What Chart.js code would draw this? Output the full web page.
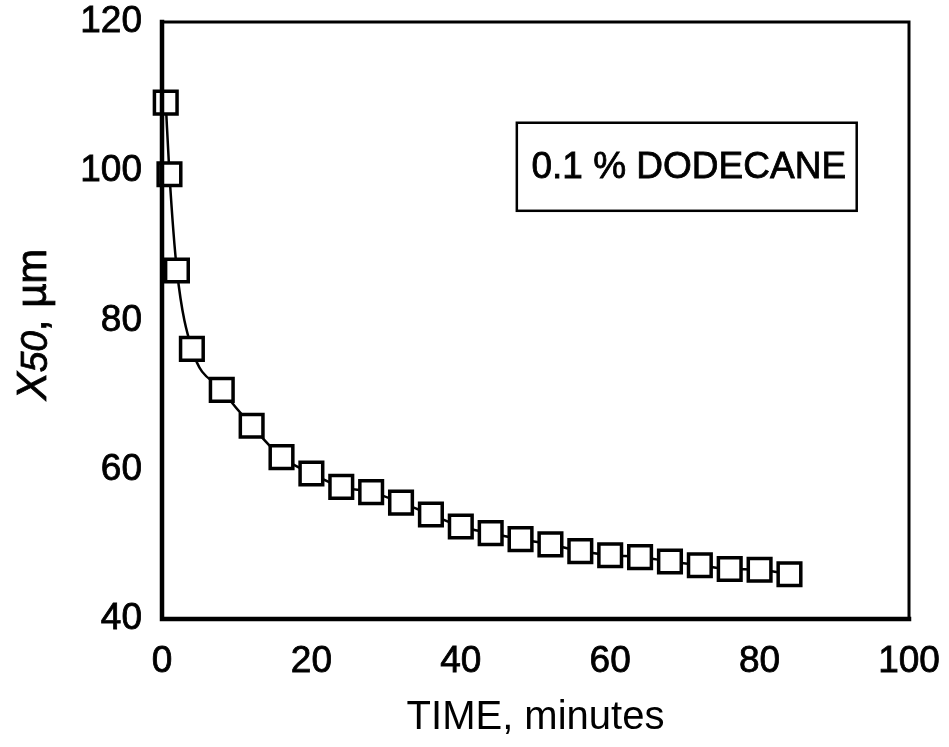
<!DOCTYPE html>
<html>
<head>
<meta charset="utf-8">
<title>X50 vs time, 0.1 % dodecane</title>
<script src="https://cdn.jsdelivr.net/npm/chart.js@4.4.1/dist/chart.umd.min.js"></script>
<style>
  html, body { margin: 0; padding: 0; background: #fff; }
  #wrap { width: 949px; height: 747px; position: relative; }
</style>
</head>
<body>
<div id="wrap"><canvas id="x50Chart"></canvas></div>
<script>
// Data
const timeMinutes = [0.5, 1, 2, 4, 8, 12, 16, 20, 24, 28, 32, 36, 40, 44, 48, 52, 56, 60, 64, 68, 72, 76, 80, 84];
const x50Values   = [109.2, 99.6, 86.7, 76.2, 70.7, 65.9, 61.7, 59.5, 57.7, 57.0, 55.6, 54.0, 52.4, 51.5,
                     50.7, 50.0, 49.1, 48.55, 48.3, 47.7, 47.2, 46.7, 46.6, 46.0];
const xTickRange = [0, 100];
const yTickRange = [40, 120];
const tickStep   = 20;
const seriesLabel = "0.1 % DODECANE";

const FONT = "'Liberation Sans', Arial, Helvetica, sans-serif";

// ---------------------------------------------------------------------------
// Small plugins: frame round the plot, y title with italic X50, boxed label
// ---------------------------------------------------------------------------
const framePlugin = {
  id: "frame",
  afterDraw(chart) {
    const { ctx, chartArea: a } = chart;
    ctx.save();
    ctx.strokeStyle = "#000";
    ctx.lineCap = "square";
    ctx.lineWidth = 3;
    ctx.beginPath();
    ctx.moveTo(a.left, a.top); ctx.lineTo(a.right, a.top); ctx.lineTo(a.right, a.bottom);
    ctx.stroke();
    ctx.lineWidth = 4.5;
    ctx.beginPath();
    ctx.moveTo(a.left, a.top); ctx.lineTo(a.left, a.bottom); ctx.lineTo(a.right, a.bottom);
    ctx.stroke();
    ctx.restore();
  },
};

const yTitlePlugin = {
  id: "yTitle",
  afterDraw(chart) {
    const { ctx, chartArea: a } = chart;
    const parts = [
      { t: "X",    font: `italic 42px ${FONT}`, dy: 0 },
      { t: "50",   font: `italic 37px ${FONT}`, dy: 3 },
      { t: ", \u00b5m", font: `42px ${FONT}`, dy: 0 },
    ];
    ctx.save();
    let total = 0;
    parts.forEach(p => { ctx.font = p.font; p.w = ctx.measureText(p.t).width; total += p.w; });
    ctx.translate(34, (a.top + a.bottom) / 2 + 4);
    ctx.rotate(-Math.PI / 2);
    ctx.fillStyle = "#000";
    ctx.strokeStyle = "#000";
    ctx.lineWidth = 0.8;
    ctx.textBaseline = "middle";
    ctx.textAlign = "left";
    let x = -total / 2;
    parts.forEach(p => {
      ctx.font = p.font;
      ctx.fillText(p.t, x, p.dy);
      ctx.strokeText(p.t, x, p.dy);
      x += p.w;
    });
    ctx.restore();
  },
};

const labelBoxPlugin = {
  id: "labelBox",
  afterDraw(chart) {
    const { ctx, scales } = chart;
    const l = scales.x.getPixelForValue(47.5), r = scales.x.getPixelForValue(93.0);
    const t = scales.y.getPixelForValue(106.5), b = scales.y.getPixelForValue(94.7);
    ctx.save();
    ctx.strokeStyle = "#000";
    ctx.lineWidth = 2.5;
    ctx.strokeRect(l, t, r - l, b - t);
    ctx.fillStyle = "#000";
    ctx.font = `37px ${FONT}`;
    ctx.lineWidth = 0.8;
    ctx.textBaseline = "middle";
    ctx.textAlign = "center";
    ctx.fillText(seriesLabel, (l + r) / 2 + 2, (t + b) / 2 + 1);
    ctx.strokeText(seriesLabel, (l + r) / 2 + 2, (t + b) / 2 + 1);
    ctx.restore();
  },
};

// ---------------------------------------------------------------------------
// Chart
// ---------------------------------------------------------------------------
const tickFont = { family: FONT, size: 37 };

new Chart(document.getElementById("x50Chart"), {
  type: "line",
  data: {
    datasets: [{
      label: seriesLabel,
      data: timeMinutes.map((t, i) => ({ x: t, y: x50Values[i] })),
      borderColor: "#000",
      borderWidth: 2.5,
      cubicInterpolationMode: "monotone",
      pointStyle: "rect",
      pointRadius: 16,
      pointBorderWidth: 3.5,
      pointBackgroundColor: "#fff",
      pointBorderColor: "#000",
      clip: false,
    }],
  },
  options: {
    responsive: true,
    maintainAspectRatio: false,
    animation: false,
    layout: { padding: { top: 22, right: 40, left: 0, bottom: 0 } },
    plugins: {
      legend: { display: false },
      tooltip: { enabled: false },
    },
    scales: {
      x: {
        type: "linear",
        min: xTickRange[0],
        max: xTickRange[1],
        grid: { display: false, drawTicks: false },
        border: { display: false },
        ticks: { stepSize: tickStep, color: "#000", font: tickFont, padding: 21, maxRotation: 0,
                 textStrokeColor: "#000", textStrokeWidth: 0.8 },
        title: {
          display: true,
          text: "TIME, minutes",
          color: "#000",
          font: { family: FONT, size: 40 },
          padding: { top: 0, bottom: 5 },
        },
        afterFit(scale) {
          scale.height = 128;
          scale.paddingLeft = 0;
          scale.paddingRight = 0;
        },
      },
      y: {
        min: yTickRange[0],
        max: yTickRange[1],
        grid: { display: false, drawTicks: false },
        border: { display: false },
        ticks: { stepSize: tickStep, color: "#000", font: tickFont, padding: 20,
                 textStrokeColor: "#000", textStrokeWidth: 0.8 },
        afterFit(scale) {
          scale.width = 162;
          scale.paddingTop = 0;
          scale.paddingBottom = 0;
        },
      },
    },
  },
  plugins: [framePlugin, yTitlePlugin, labelBoxPlugin],
});
</script>
</body>
</html>
